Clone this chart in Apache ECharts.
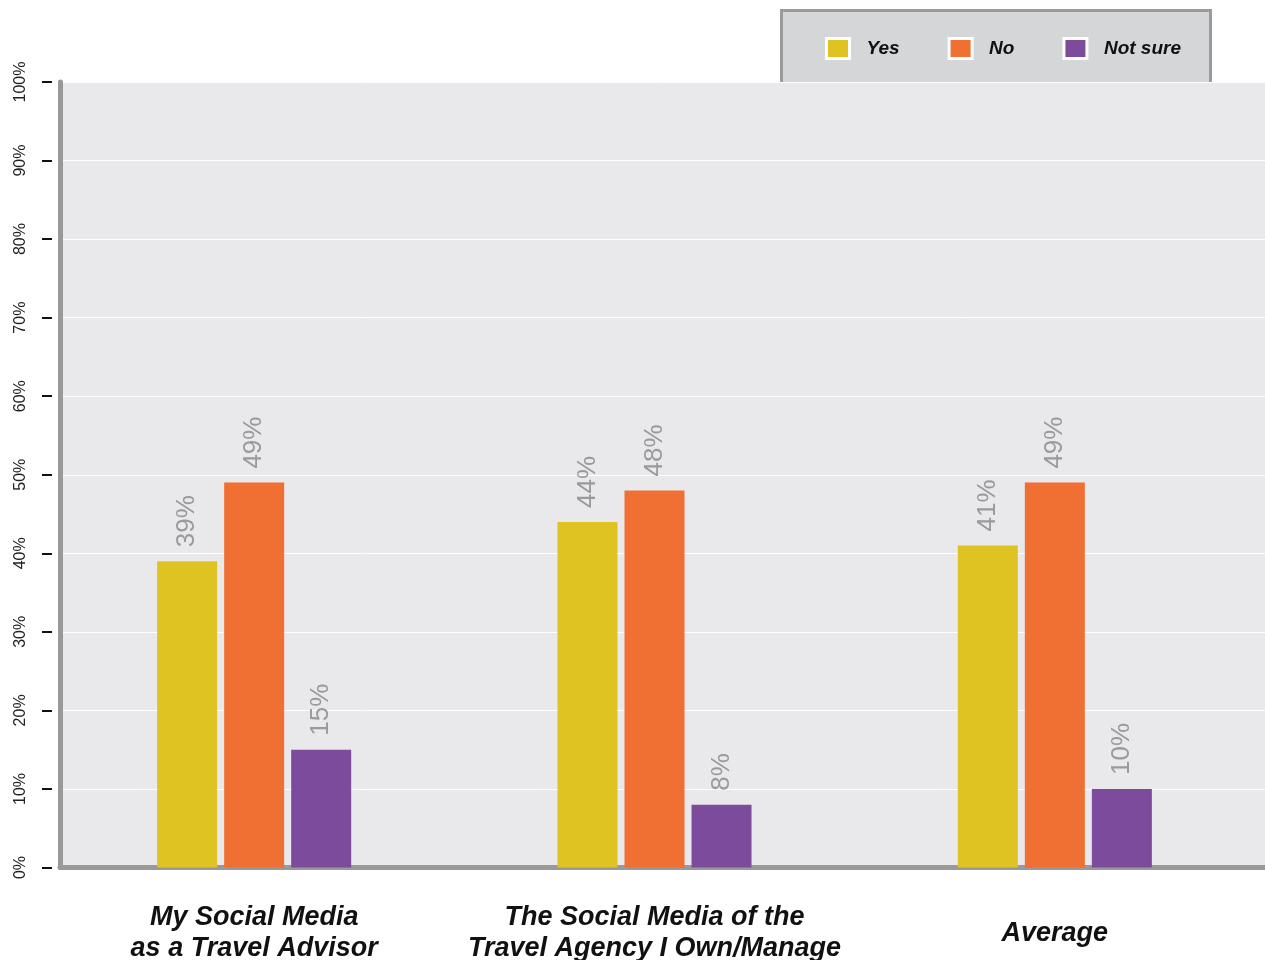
<!DOCTYPE html>
<html>
<head>
<meta charset="utf-8">
<script src="https://cdn.jsdelivr.net/npm/echarts@6/dist/echarts.min.js"></script>
<style>
  html, body { margin: 0; padding: 0; background: #ffffff; }
  #chart { width: 1265px; height: 960px; }
</style>
</head>
<body>
<div id="chart"></div>
<script>
// Survey answers by social media channel, in percent
const categories = [
  'My Social Media\nas a Travel Advisor',
  'The Social Media of the\nTravel Agency I Own/Manage',
  'Average'
];
const seriesNames = ['Yes', 'No', 'Not sure'];
const yesValues = [39, 44, 41];
const noValues = [49, 48, 49];
const notSureValues = [15, 8, 10];
const yTicks = [0, 10, 20, 30, 40, 50, 60, 70, 80, 90, 100];

const colors = ['#dfc323', '#f06f32', '#7c4b9c'];

const chart = echarts.init(document.getElementById('chart'), null, { renderer: 'canvas' });

const yMin = yTicks[0];
const yMax = yTicks[yTicks.length - 1];
const yStep = yTicks[1] - yTicks[0];

const valueLabel = {
  show: true,
  position: 'top',
  distance: 14,
  rotate: 90,
  align: 'left',
  verticalAlign: 'middle',
  formatter: '{c}%',
  color: '#9a9a9a',
  fontFamily: 'Liberation Sans',
  fontSize: 26
};

function barSeries(name, data, color) {
  return {
    name: name,
    type: 'bar',
    xAxisIndex: 1,
    yAxisIndex: 2,
    data: data,
    barWidth: 60,
    barGap: '11.7%',
    itemStyle: { color: color },
    label: valueLabel,
    z: 3
  };
}

const option = {
  animation: false,
  backgroundColor: '#ffffff',
  graphic: [{
    type: 'rect',
    z: -10,
    shape: { x: 781.5, y: 10.5, width: 429, height: 90 },
    style: { fill: '#d5d6d8', stroke: '#9b9b9b', lineWidth: 3 }
  }],
  legend: {
    left: 825,
    top: 37,
    padding: 0,
    itemWidth: 23,
    itemHeight: 20,
    itemGap: 48,
    icon: 'rect',
    data: seriesNames,
    itemStyle: { borderColor: '#ffffff', borderWidth: 3 },
    textStyle: {
      color: '#111111',
      fontFamily: 'Liberation Sans',
      fontWeight: 'bold',
      fontStyle: 'italic',
      fontSize: 19,
      padding: [4, 0, 0, 12]
    }
  },
  grid: [{
    // plot frame: background, axis lines, gridlines
    left: 60,
    right: 0,
    top: 82,
    bottom: 92.5,
    outerBoundsMode: 'none',
    containLabel: false,
    show: true,
    backgroundColor: '#e9e9eb',
    borderWidth: 0
  }, {
    // bar layout band
    left: 54,
    right: 10,
    top: 82,
    bottom: 92.5,
    outerBoundsMode: 'none',
    containLabel: false,
    show: false
  }],
  xAxis: [{
    type: 'category',
    gridIndex: 0,
    data: categories,
    axisLine: { show: true, lineStyle: { color: '#999999', width: 5 } },
    axisTick: { show: false },
    axisLabel: { show: false }
  }, {
    type: 'category',
    gridIndex: 1,
    data: categories,
    axisLine: { show: false },
    axisTick: { show: false },
    axisLabel: {
      interval: 0,
      margin: 66,
      verticalAlign: 'middle',
      color: '#111111',
      fontFamily: 'Liberation Sans',
      fontWeight: 'bold',
      fontStyle: 'italic',
      fontSize: 27,
      lineHeight: 31
    }
  }],
  yAxis: [{
    type: 'value',
    gridIndex: 0,
    min: yMin,
    max: yMax,
    interval: yStep,
    axisLine: { show: true, lineStyle: { color: '#999999', width: 5 } },
    axisTick: { show: false },
    axisLabel: { show: false },
    splitLine: { show: true, lineStyle: { color: '#ffffff', width: 1 } }
  }, {
    type: 'value',
    gridIndex: 0,
    position: 'left',
    offset: 8,
    min: yMin,
    max: yMax,
    interval: yStep,
    axisLine: { show: false },
    axisTick: { show: true, length: 10, lineStyle: { color: '#111111', width: 2 } },
    splitLine: { show: false },
    axisLabel: {
      rotate: 90,
      margin: 23,
      formatter: '{value}%',
      color: '#222222',
      fontFamily: 'Liberation Sans',
      fontSize: 16
    }
  }, {
    type: 'value',
    gridIndex: 1,
    min: yMin,
    max: yMax,
    interval: yStep,
    show: false
  }],
  series: [
    barSeries(seriesNames[0], yesValues, colors[0]),
    barSeries(seriesNames[1], noValues, colors[1]),
    barSeries(seriesNames[2], notSureValues, colors[2])
  ]
};

chart.setOption(option);
</script>
</body>
</html>
